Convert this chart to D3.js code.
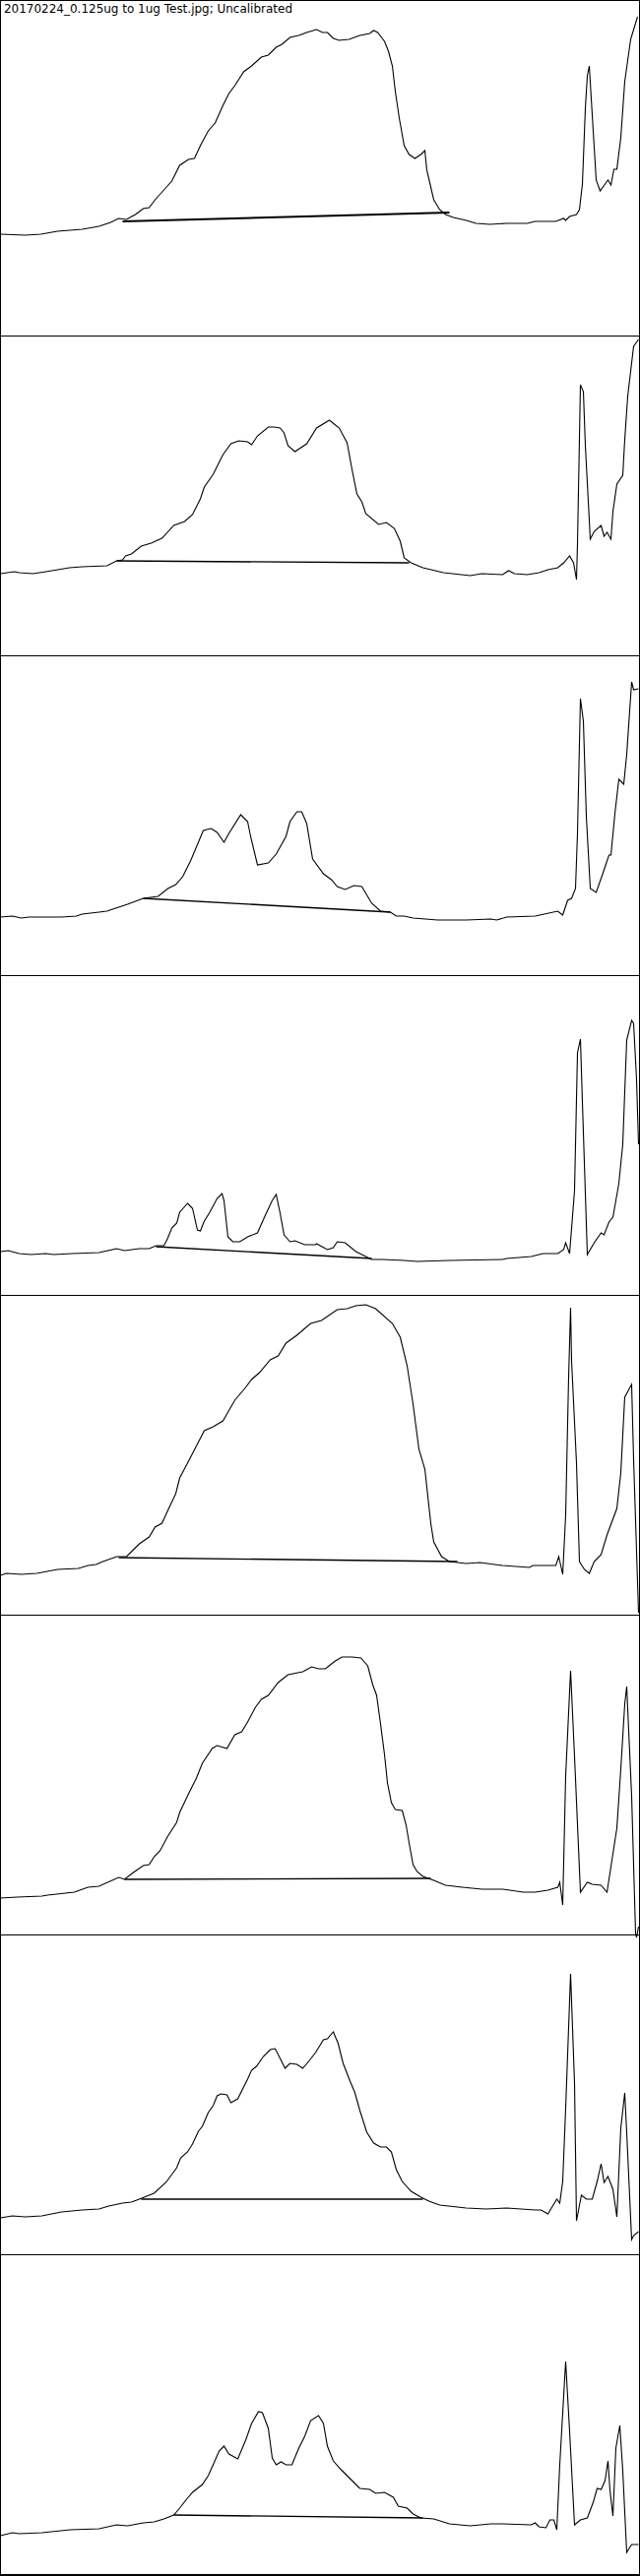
<!DOCTYPE html>
<html>
<head>
<meta charset="utf-8">
<script src="https://cdn.jsdelivr.net/npm/d3@7/dist/d3.min.js"></script>
<style>
  html, body { margin: 0; padding: 0; background: #fff; }
  svg { display: block; }
</style>
</head>
<body>
<svg id="chart" width="650" height="2618"></svg>
<script>
const title = "20170224_0.125ug to 1ug Test.jpg; Uncalibrated";
const laneNames = ["Lane 1","Lane 2","Lane 3","Lane 4","Lane 5","Lane 6","Lane 7","Lane 8"];

// [position along lane, density]
const profile1 = [[0,103],[25,102],[41,103],[58,106],[83,108],[100,111],[112,115],[120,119],[128,118],[137,123],[145,129],[151,130],[157,138],[166,148],[174,157],[182,173],[191,179],[197,180],[203,193],[211,208],[218,216],[226,234],[232,246],[238,254],[247,268],[255,274],[265,283],[272,285],[280,293],[286,296],[294,303],[303,305],[311,308],[321,311],[327,308],[332,308],[338,302],[344,300],[354,301],[365,305],[375,307],[379,310],[383,308],[390,299],[394,289],[398,274],[401,248],[405,221],[410,193],[415,184],[421,180],[427,184],[431,188],[433,168],[437,151],[440,138],[446,128],[452,123],[460,120],[473,117],[483,114],[497,113],[514,114],[535,114],[543,116],[564,116],[572,119],[574,117],[578,121],[585,123],[588,128],[591,154],[594,231],[596,264],[598,274],[601,224],[605,158],[609,147],[614,154],[617,158],[620,153],[623,169],[626,169],[630,201],[634,258],[640,301],[647,324]];
const baseline1 = [[124,116],[456,125]];

const profile2 = [[0,83],[14,85],[19,84],[33,83],[46,85],[70,89],[83,90],[108,91],[118,96],[124,97],[127,101],[133,103],[143,111],[153,114],[164,119],[176,132],[187,136],[195,143],[203,159],[207,171],[216,184],[226,204],[234,215],[242,218],[251,217],[255,214],[261,223],[272,232],[278,232],[284,231],[288,226],[292,213],[299,207],[311,215],[321,231],[334,239],[344,231],[352,216],[357,189],[362,164],[367,156],[371,144],[384,133],[392,135],[400,129],[406,116],[410,99],[417,94],[429,89],[450,84],[477,81],[489,83],[510,82],[516,86],[522,83],[535,82],[547,84],[556,87],[566,89],[572,94],[578,101],[582,94],[585,77],[586,113],[589,275],[592,268],[594,213],[599,118],[603,126],[610,132],[613,121],[616,125],[620,118],[622,146],[626,174],[632,183],[634,219],[637,263],[643,314],[648,321]];
const baseline2 = [[118,96],[415,94]];

const profile3 = [[0,59],[12,60],[21,58],[29,59],[62,59],[77,60],[83,62],[100,64],[108,65],[120,69],[129,72],[145,78],[160,80],[170,88],[178,92],[185,100],[193,116],[206,147],[214,149],[220,145],[227,135],[232,144],[244,163],[251,156],[254,141],[261,112],[272,114],[280,123],[290,141],[294,156],[301,166],[306,166],[311,154],[317,118],[328,103],[336,97],[342,90],[350,87],[359,91],[367,90],[377,73],[386,65],[396,64],[402,60],[410,60],[419,58],[444,56],[473,56],[498,57],[504,56],[514,59],[543,60],[566,65],[571,61],[576,76],[580,78],[584,88],[586,144],[589,281],[592,258],[595,161],[599,88],[605,84],[612,104],[618,122],[620,122],[624,164],[628,199],[633,194],[636,224],[641,298],[643,290],[648,291]];
const baseline3 = [[145,78],[396,64]];

const profile4 = [[0,44],[8,45],[19,42],[31,41],[46,42],[54,41],[73,42],[100,43],[118,47],[126,45],[141,47],[151,47],[158,50],[166,50],[170,58],[174,68],[179,73],[182,84],[190,93],[195,88],[200,66],[203,65],[207,75],[212,83],[220,98],[225,103],[227,96],[231,59],[236,54],[243,54],[251,59],[261,63],[269,81],[276,96],[280,102],[284,83],[288,61],[294,54],[299,55],[309,51],[320,51],[321,52],[332,46],[338,48],[342,54],[350,53],[361,44],[371,39],[377,36],[388,36],[410,35],[423,34],[456,35],[510,36],[514,37],[539,39],[551,42],[566,42],[572,46],[574,53],[578,42],[583,106],[586,246],[589,260],[591,196],[596,41],[603,53],[610,63],[613,61],[618,74],[622,79],[628,113],[632,153],[636,259],[641,279],[643,276],[646,219],[648,153]];
const baseline4 = [[158,49],[377,37]];

const profile5 = [[0,40],[6,42],[21,41],[37,42],[58,46],[79,47],[89,50],[97,51],[104,54],[118,59],[128,59],[141,72],[151,79],[157,89],[164,93],[170,106],[178,123],[182,139],[191,156],[207,187],[216,191],[226,197],[230,204],[238,218],[249,231],[255,239],[263,246],[274,259],[282,263],[290,276],[301,284],[315,296],[326,299],[342,310],[352,311],[361,314],[371,315],[381,311],[398,296],[406,282],[413,253],[419,214],[425,168],[431,148],[437,93],[440,74],[448,59],[456,54],[473,52],[487,53],[510,50],[537,48],[541,50],[564,50],[567,59],[571,41],[574,101],[577,241],[579,312],[580,258],[585,154],[588,54],[593,46],[598,42],[603,54],[610,61],[616,81],[626,108],[630,144],[634,221],[641,234],[643,158],[648,2]];
const baseline5 = [[120,58],[464,54]];

const profile6 = [[0,37],[17,38],[42,39],[48,40],[75,43],[89,48],[100,49],[120,58],[126,56],[135,63],[145,70],[151,71],[156,79],[162,85],[170,100],[179,114],[182,124],[191,143],[199,159],[205,174],[215,189],[220,192],[230,189],[238,203],[245,206],[251,216],[259,231],[265,239],[272,243],[282,256],[292,264],[307,267],[316,272],[323,270],[330,270],[340,278],[347,282],[357,282],[366,281],[373,273],[378,254],[382,243],[386,214],[390,183],[393,154],[397,134],[401,127],[408,126],[412,111],[415,93],[419,71],[423,64],[429,59],[440,55],[452,50],[469,48],[489,46],[510,46],[531,43],[543,43],[556,45],[566,48],[568,53],[571,30],[574,161],[579,268],[583,181],[589,43],[596,53],[601,51],[610,50],[616,43],[620,69],[626,108],[630,168],[634,234],[636,252],[641,141],[645,1],[646,-3],[648,8]];
const baseline6 = [[126,56],[437,57]];

const profile7 = [[0,37],[12,39],[25,38],[42,39],[62,43],[83,45],[100,46],[110,49],[124,52],[133,53],[141,56],[156,62],[168,73],[174,81],[179,88],[183,98],[190,104],[195,112],[201,125],[205,130],[211,144],[216,151],[220,161],[224,163],[230,162],[234,154],[241,158],[247,170],[251,178],[255,187],[260,191],[267,201],[274,208],[279,209],[284,199],[289,189],[294,194],[301,193],[307,189],[313,196],[320,205],[328,218],[332,219],[338,226],[343,214],[348,194],[355,176],[360,164],[365,146],[372,124],[379,113],[386,109],[392,109],[397,104],[402,86],[408,74],[417,64],[427,58],[435,54],[446,50],[473,47],[493,46],[514,47],[543,45],[549,45],[556,41],[565,56],[568,52],[571,74],[574,148],[579,285],[583,174],[585,34],[590,60],[595,56],[601,56],[606,74],[610,92],[613,73],[617,79],[622,66],[626,38],[630,128],[634,164],[636,124],[641,15],[643,19],[648,23]];
const baseline7 = [[143,56],[429,56]];

const profile8 = [[0,39],[12,42],[19,41],[42,42],[71,45],[100,46],[118,50],[129,49],[145,52],[156,53],[166,56],[176,60],[182,67],[189,76],[195,83],[205,91],[211,100],[216,111],[222,125],[227,130],[232,122],[241,117],[249,136],[255,153],[262,165],[266,164],[272,148],[276,118],[280,111],[285,114],[290,111],[296,111],[303,128],[309,140],[315,156],[323,161],[328,153],[332,130],[338,115],[346,106],[357,95],[365,87],[375,86],[381,82],[390,83],[399,78],[404,69],[413,67],[419,61],[427,57],[440,56],[456,51],[477,49],[498,51],[510,51],[539,50],[543,52],[547,48],[554,47],[558,55],[562,55],[565,45],[568,111],[574,216],[578,145],[583,50],[589,55],[596,57],[602,73],[606,87],[610,86],[614,95],[617,115],[619,85],[622,59],[625,128],[629,151],[632,105],[636,22],[641,30],[648,30]];
const baseline8 = [[176,60],[429,57]];

const profiles = [profile1, profile2, profile3, profile4, profile5, profile6, profile7, profile8];
const baselines = [baseline1, baseline2, baseline3, baseline4, baseline5, baseline6, baseline7, baseline8];

const W = 650, H = 2618;
const top0 = 16, panelH = 325;
const svg = d3.select("#chart");

const x = d3.scaleLinear().domain([0, 648]).range([0.5, 648.5]);

// outer frame
svg.append("rect").attr("x", 0.5).attr("y", 0.5).attr("width", 649).attr("height", 2616)
  .attr("fill", "none").attr("stroke", "#000").attr("stroke-width", 1).attr("shape-rendering", "crispEdges");
svg.append("line").attr("x1", 0).attr("x2", W).attr("y1", 2617.5).attr("y2", 2617.5)
  .attr("stroke", "#000").attr("shape-rendering", "crispEdges");

svg.append("text").attr("x", 4).attr("y", 12.5)
  .attr("font-family", "'DejaVu Sans', sans-serif").attr("font-size", 11.5)
  .attr("textLength", 293).attr("lengthAdjust", "spacingAndGlyphs")
  .attr("fill", "#000").text(title);

const line = d3.line();

laneNames.forEach((name, i) => {
  const top = top0 + panelH * i;
  const bottom = top + panelH;
  const y = d3.scaleLinear().domain([0, panelH]).range([bottom, top]);
  const g = svg.append("g").attr("class", "lane").attr("data-name", name);
  if (i > 0) {
    g.append("line").attr("x1", 0).attr("x2", W).attr("y1", top + 0.5).attr("y2", top + 0.5)
      .attr("stroke", "#000").attr("shape-rendering", "crispEdges");
  }
  line.x(d => x(d[0])).y(d => y(d[1]));
  g.append("path").datum(baselines[i]).attr("d", line)
    .attr("fill", "none").attr("stroke", "#000").attr("stroke-width", i === 0 ? 2 : 1.4);
  g.append("path").datum(profiles[i]).attr("d", line)
    .attr("fill", "none").attr("stroke", "#000").attr("stroke-width", 1.1)
    .attr("stroke-linejoin", "miter");
});
</script>
</body>
</html>
